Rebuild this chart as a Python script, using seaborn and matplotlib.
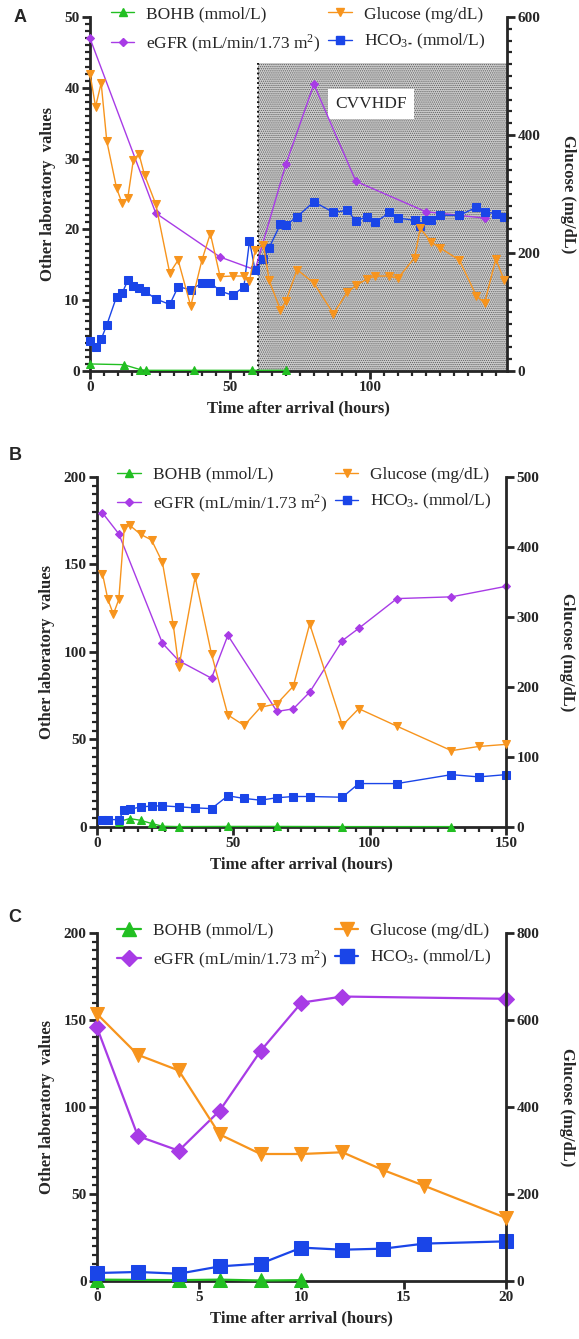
import matplotlib
matplotlib.use('Agg')
import matplotlib.pyplot as plt
from matplotlib.ticker import MultipleLocator
from matplotlib.lines import Line2D
import seaborn as sns

# ---- panel A (time in hours) ----
a_bohb_t = [0, 12, 18, 20, 37, 58, 70]
a_bohb = [1.0, 0.9, 0.2, 0.1, 0.1, 0.1, 0.1]
a_egfr_t = [0, 23.5, 46.5, 59, 70, 80, 95, 120, 141]
a_egfr = [47, 22.3, 16.1, 14.3, 29.2, 40.5, 26.8, 22.5, 21.6]
a_glu_t = [0, 2, 4, 6, 9.5, 11.5, 13.5, 15.5, 17.5, 19.5, 23.5, 28.5, 31.5, 36, 40, 43,
           46.5, 51, 55, 57, 59, 62, 64, 68, 70, 74, 80, 87, 92, 95, 99, 102, 107, 110,
           116, 118, 122, 125, 132, 138, 141, 145, 148]
a_glu = [504, 448, 488, 390, 310, 284, 293, 358, 368, 332, 283, 166, 188, 110, 188, 233,
         160, 161, 161, 152, 205, 214, 154, 104, 118, 172, 149, 97, 134, 145, 156, 161, 161,
         157, 192, 242, 218, 209, 188, 128, 115, 190, 154]
a_hco3_t = [0, 2, 4, 6, 9.5, 11.5, 13.5, 15.5, 17.5, 19.5, 23.5, 28.5, 31.5, 36, 40, 43,
            46.5, 51, 55, 57, 59, 62, 64, 68, 70, 74, 80, 87, 92, 95, 99, 102, 107, 110,
            116, 118, 120, 122, 125, 132, 138, 141, 145, 148]
a_hco3 = [4.3, 3.4, 4.5, 6.5, 10.5, 11.0, 12.8, 12.0, 11.7, 11.3, 10.2, 9.4, 11.9, 11.5,
          12.4, 12.5, 11.3, 10.7, 11.9, 18.4, 14.2, 15.8, 17.4, 20.7, 20.6, 21.8, 23.9, 22.4,
          22.7, 21.2, 21.8, 21.0, 22.4, 21.6, 21.3, 20.5, 21.3, 21.3, 22.0, 22.0, 23.1, 22.5,
          22.2, 21.8]
cvvhdf_start = 60
cvvhdf_top = 43.5

# ---- panel B ----
b_bohb_t = [8, 12, 16, 20, 24, 30, 48, 66, 90, 130]
b_bohb = [3.0, 4.8, 3.8, 2.0, 0.4, 0.2, 0.3, 0.3, 0.2, 0.2]
b_egfr_t = [2, 8, 24, 30, 42, 48, 66, 72, 78, 90, 96, 110, 130, 150]
b_egfr = [179.5, 167.5, 105, 95, 85, 109.5, 66, 67.5, 77, 106.5, 113.5, 130.5, 131.5, 137.5]
b_glu_t = [2, 4, 6, 8, 10, 12, 16, 20, 24, 28, 30, 36, 42, 48, 54, 60, 66, 72, 78, 90, 96,
           110, 130, 140, 150]
b_glu = [362, 325, 304, 325, 427, 431, 418, 410, 378, 288, 228, 357, 247, 160, 145, 171,
         176, 201, 290, 145, 169, 144, 109, 115, 118]
b_hco3_t = [2, 4, 8, 10, 12, 16, 20, 24, 30, 36, 42, 48, 54, 60, 66, 72, 78, 90, 96, 110,
            130, 140, 150]
b_hco3 = [4.2, 4.2, 4.2, 9.6, 10, 11.5, 11.9, 12.1, 11.5, 10.9, 10.5, 17.8, 16.3, 15.3,
          16.7, 17.4, 17.4, 17.0, 24.8, 24.8, 29.9, 28.6, 29.9]

# ---- panel C ----
c_bohb_t = [0, 4, 6, 8, 10]
c_bohb = [0.8, 0.5, 0.8, 0.3, 0.5]
c_egfr_t = [0, 2, 4, 6, 8, 10, 12, 20]
c_egfr = [145.7, 83.3, 74.9, 97.9, 132.2, 160, 163.5, 162.2]
c_glu_t = [0, 2, 4, 6, 8, 10, 12, 14, 16, 20]
c_glu = [614, 520, 484, 337, 292, 292, 296, 255, 219, 145]
c_hco3_t = [0, 2, 4, 6, 8, 10, 12, 14, 16, 20]
c_hco3 = [4.6, 5.2, 4.2, 8.4, 10, 19.2, 18, 18.6, 21.5, 22.8]

labels = ['BOHB (mmol/L)', r'eGFR (mL/min/1.73 m$^{\mathregular{2}}$)',
          'Glucose (mg/dL)', r'HCO$_{\mathregular{3}\text{-}}$ (mmol/L)']
colors = ['#22bf22', '#a83be6', '#f7941d', '#1a45e8']
markers = ['^', 'D', 'v', 's']

sns.set_style('ticks')
plt.rcParams['font.family'] = ['Liberation Serif', 'DejaVu Serif']
plt.rcParams['font.weight'] = 'bold'
plt.rcParams['mathtext.fontset'] = 'stix'
plt.rcParams['hatch.linewidth'] = 0.6


def panel(ax, data, xmax, ymax, rmax, xmaj, xmin, ymaj, ymin, rmaj, rmin, sizes, lw):
    ax2 = ax.twinx()
    targets = [ax, ax, ax2, ax]
    handles = []
    for (t, v), tgt, c, m, s in zip(data, targets, colors, markers, sizes):
        sns.lineplot(x=t, y=v, ax=tgt, color=c, marker=m, markersize=s,
                     markeredgecolor=c, linewidth=lw, estimator=None, sort=False,
                     legend=False, clip_on=False, zorder=3)
        handles.append(Line2D([], [], color=c, marker=m, markersize=s,
                              markeredgecolor=c, linewidth=lw))
    ax.set_xlim(0, xmax)
    ax.set_ylim(0, ymax)
    ax2.set_ylim(0, rmax)
    ax.xaxis.set_major_locator(MultipleLocator(xmaj))
    if xmin:
        ax.xaxis.set_minor_locator(MultipleLocator(xmin))
    ax.yaxis.set_major_locator(MultipleLocator(ymaj))
    ax.yaxis.set_minor_locator(MultipleLocator(ymin))
    ax2.yaxis.set_major_locator(MultipleLocator(rmaj))
    if rmin:
        ax2.yaxis.set_minor_locator(MultipleLocator(rmin))
    for a in (ax, ax2):
        a.spines['top'].set_visible(False)
        a.tick_params(which='major', length=6, width=2, labelsize=11, pad=1.5)
        a.tick_params(which='minor', length=3.5, width=1.6)
        for sp in a.spines.values():
            sp.set_linewidth(2)
    ax.spines['right'].set_visible(False)
    ax2.spines['left'].set_visible(False)
    ax2.spines['bottom'].set_visible(False)
    ax.set_xlabel('Time after arrival (hours)', fontsize=12, fontweight='bold', labelpad=4)
    ax.set_ylabel('Other laboratory  values', fontsize=12, fontweight='bold', labelpad=6)
    ax2.set_ylabel('Glucose (mg/dL)', fontsize=12, fontweight='bold', rotation=270,
                   va='bottom', labelpad=14)
    ax2.legend(handles, labels, ncol=2, loc='upper left', bbox_to_anchor=(0.05, 1.03),
               frameon=False, borderpad=0, borderaxespad=0, handlelength=1.35,
               handletextpad=0.7, columnspacing=0.4, labelspacing=0.55,
               prop={'size': 12.5, 'weight': 'normal'})
    return ax2


fig = plt.figure(figsize=(5.79, 13.39), dpi=100)
axA = fig.add_axes([0.1554, 0.7229, 0.7202, 0.2644])
axB = fig.add_axes([0.1675, 0.3824, 0.7064, 0.2614])
axC = fig.add_axes([0.1675, 0.0433, 0.7064, 0.2599])

# CVVHDF shaded window in panel A
axA.fill_between([cvvhdf_start, 149], 0, cvvhdf_top, facecolor='#cdcdcd', hatch='........',
                 edgecolor='#5e5e5e', linewidth=0, zorder=0)
axA.plot([cvvhdf_start, cvvhdf_start], [0, cvvhdf_top], color='black', ls=':', lw=1.3, zorder=1)
axA.text(100.5, 37.7, 'CVVHDF', fontsize=12.5, fontweight='normal', ha='center', va='center',
         bbox=dict(facecolor='white', edgecolor='none', pad=5), zorder=2)

small = [5.5, 4.5, 6, 6]
panel(axA, [(a_bohb_t, a_bohb), (a_egfr_t, a_egfr), (a_glu_t, a_glu), (a_hco3_t, a_hco3)],
      149, 50, 600, 50, 5, 10, 1, 200, 20, small, 1.0)
panel(axB, [(b_bohb_t, b_bohb), (b_egfr_t, b_egfr), (b_glu_t, b_glu), (b_hco3_t, b_hco3)],
      150, 200, 500, 50, 5, 50, 5, 100, None, small, 1.0)
panel(axC, [(c_bohb_t, c_bohb), (c_egfr_t, c_egfr), (c_glu_t, c_glu), (c_hco3_t, c_hco3)],
      20, 200, 800, 5, None, 50, 5, 200, None, [9.5, 8.5, 10, 10], 1.6)

for letter, xx, yy in zip(['A', 'B', 'C'], [0.034, 0.026, 0.026], [0.987, 0.660, 0.315]):
    fig.text(xx, yy, letter, fontsize=13, fontweight='bold', family='Liberation Sans',
             ha='center', va='center')

fig.savefig('out.png', dpi=100)
